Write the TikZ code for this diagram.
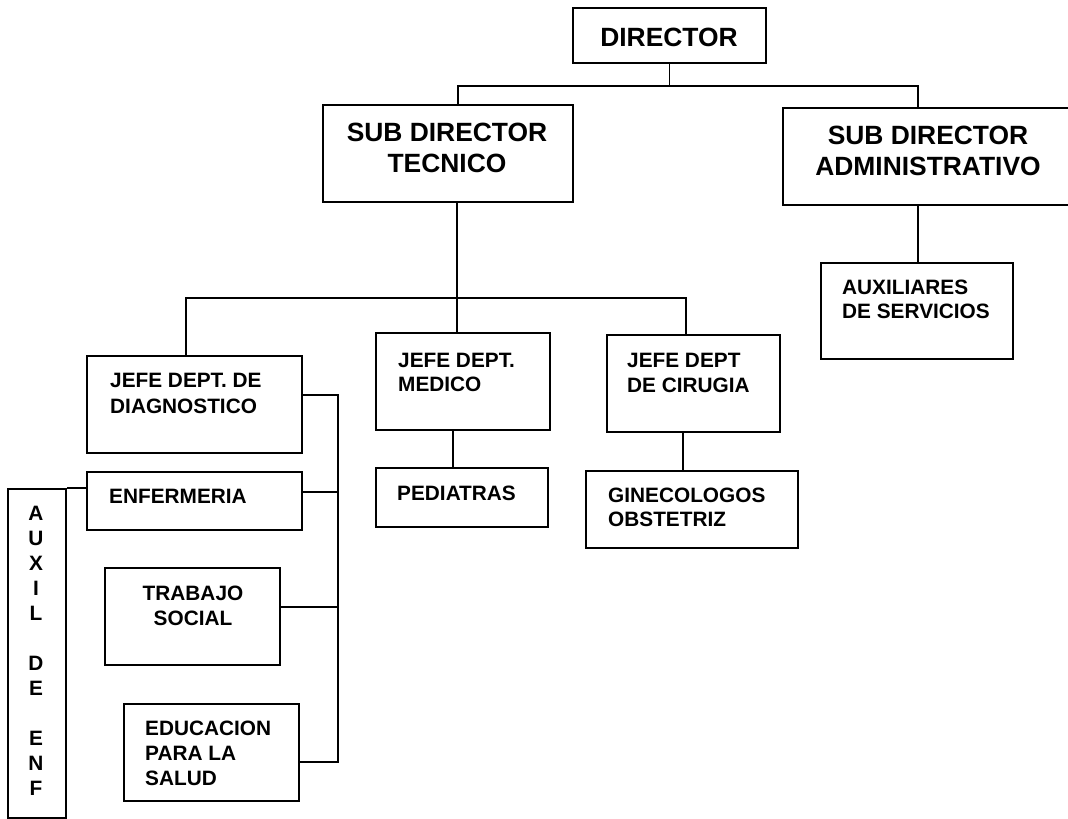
\documentclass[tikz,border=0pt]{standalone}
\usepackage{fontspec}
\setmainfont{Liberation Sans}
\begin{document}
\begin{tikzpicture}[x=1pt,y=-1pt,
  box/.style={draw, line width=2.2pt, inner sep=0pt},
  conn/.style={line width=1.6pt},
  small/.style={font=\bfseries\fontsize{20.8}{25}\selectfont, inner sep=0pt, anchor=north west, align=left},
  smallc/.style={font=\bfseries\fontsize{20.8}{25}\selectfont, inner sep=0pt, anchor=north, align=center},
  big/.style={font=\bfseries\fontsize{26.4}{31.5}\selectfont, inner sep=0pt, anchor=north, align=center}]
\useasboundingbox (0,0) rectangle (1068,819);
\clip (0,0) rectangle (1068,819);
\fill[white] (0,0) rectangle (1068,819);

% boxes
\node[box, minimum width=193pt, minimum height=55pt] (dir) at (669.5,35.5) {};
\node[box, minimum width=250pt, minimum height=97pt] (sdt) at (448,153.5) {};
\node[box, minimum width=292pt, minimum height=97pt] (sda) at (929,156.5) {};
\node[box, minimum width=192pt, minimum height=96pt] (aux) at (917,311) {};
\node[box, minimum width=215pt, minimum height=97pt] (jdiag) at (194.5,404.5) {};
\node[box, minimum width=174pt, minimum height=97pt] (jmed) at (463,381.5) {};
\node[box, minimum width=173pt, minimum height=97pt] (jcir) at (693.5,383.5) {};
\node[box, minimum width=172pt, minimum height=59pt] (ped) at (462,497.5) {};
\node[box, minimum width=212pt, minimum height=77pt] (gin) at (692,509.5) {};
\node[box, minimum width=215pt, minimum height=58pt] (enf) at (194.5,501) {};
\node[box, minimum width=175pt, minimum height=97pt] (trab) at (192.5,616.5) {};
\node[box, minimum width=175pt, minimum height=97pt] (edu) at (211.5,752.5) {};
\node[box, minimum width=58pt, minimum height=329pt] (auxenf) at (37,653.5) {};

% texts
\node[big] (dir-t) at (669,27.5) {DIRECTOR};
\node[big] (sdt-t) at (447,122.5) {SUB DIRECTOR\\TECNICO};
\node[big] (sda-t) at (928,125.5) {SUB DIRECTOR\\ADMINISTRATIVO};
\node[small, font=\bfseries\fontsize{20.8}{24}\selectfont] (aux-t) at (842,279.6) {AUXILIARES\\DE SERVICIOS};
\node[small, font=\bfseries\fontsize{20.8}{26}\selectfont] (jdiag-t) at (110,372.6) {JEFE DEPT. DE\\DIAGNOSTICO};
\node[small, font=\bfseries\fontsize{20.8}{24}\selectfont] (jmed-t) at (398,352.6) {JEFE DEPT.\\MEDICO};
\node[small] (jcir-t) at (627,352.6) {JEFE DEPT\\DE CIRUGIA};
\node[small] (ped-t) at (397,485.6) {PEDIATRAS};
\node[small, font=\bfseries\fontsize{20.8}{24}\selectfont] (gin-t) at (608,487.6) {GINECOLOGOS\\OBSTETRIZ};
\node[small] (enf-t) at (109,488.6) {ENFERMERIA};
\node[smallc] (trab-t) at (193,585.6) {TRABAJO\\SOCIAL};
\node[small] (edu-t) at (145,720.6) {EDUCACION\\PARA LA\\SALUD};
\node[smallc] (auxenf-t) at (36,505.6) {A\\U\\X\\I\\L\\[25pt]D\\E\\[25pt]E\\N\\F};

% connector points
\coordinate (b1) at (458,86);
\coordinate (b2) at (918,86);
\coordinate (b3) at (186,298);
\coordinate (b4) at (686,298);
\coordinate (s1) at (457,0);
\coordinate (m1) at (453,0);
\coordinate (m2) at (683,0);
\coordinate (v) at (338,0);
\coordinate (pdiag) at ([yshift=9.5pt]jdiag.east);
\coordinate (penf) at ([yshift=9pt]enf.east);
\coordinate (ptrab) at ([yshift=9.5pt]trab.east);
\coordinate (pedu) at ([yshift=-9.5pt]edu.east);

% connectors
\draw[conn] (dir.south) -- (dir.south |- b1);
\draw[conn] (b1 |- sdt.north) -- (b1) -- (b2) -- (b2 |- sda.north);
\draw[conn] (b2 |- sda.south) -- (b2 |- aux.north);
\draw[conn] (s1 |- sdt.south) -- (s1 |- jmed.north);
\draw[conn] (b3 |- jdiag.north) -- (b3) -- (b4) -- (b4 |- jcir.north);
\draw[conn] (m1 |- jmed.south) -- (m1 |- ped.north);
\draw[conn] (m2 |- jcir.south) -- (m2 |- gin.north);
\draw[conn] (pdiag) -- (v |- pdiag) -- (v |- pedu) -- (pedu);
\draw[conn] (penf) -- (v |- penf);
\draw[conn] (ptrab) -- (v |- ptrab);
\draw[conn] (auxenf.north east) -- (auxenf.north east -| enf.west);
\end{tikzpicture}
\end{document}
